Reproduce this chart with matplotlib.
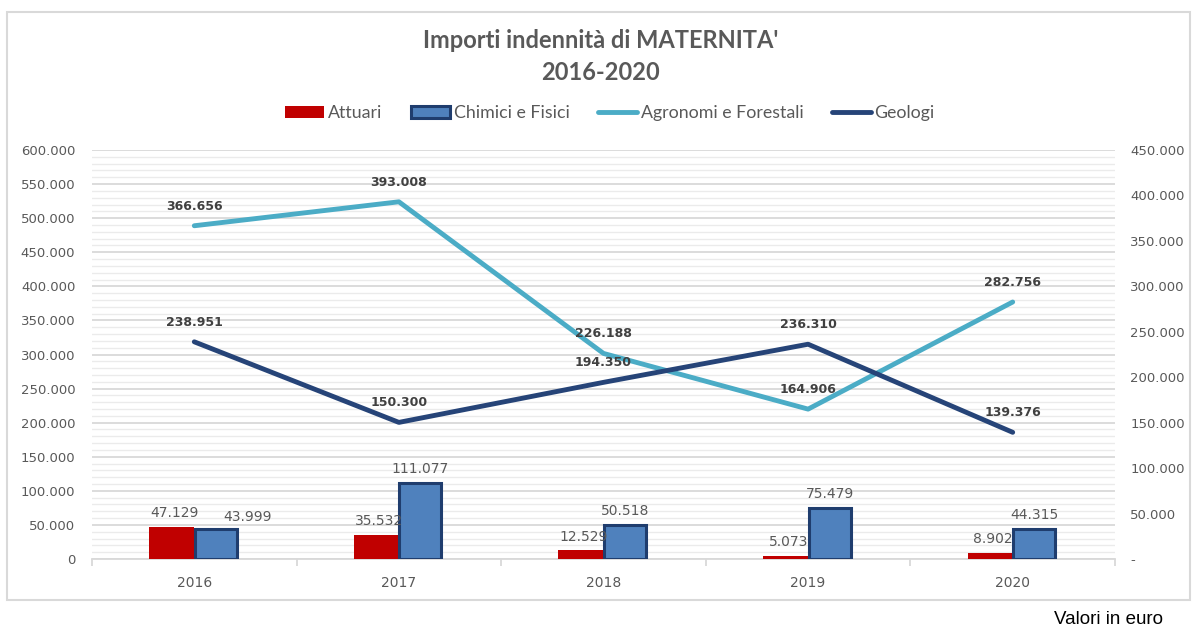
import matplotlib
matplotlib.use("Agg")
import matplotlib.pyplot as plt
import numpy as np
from matplotlib.ticker import FuncFormatter, MultipleLocator, FixedLocator
from matplotlib.patches import Rectangle

anni = ['2016', '2017', '2018', '2019', '2020']
attuari = [47129, 35532, 12529, 5073, 8902]
chimici = [43999, 111077, 50518, 75479, 44315]
agronomi = [366656, 393008, 226188, 164906, 282756]
geologi = [238951, 150300, 194350, 236310, 139376]

def fmt_it(v):
    return '{:,.0f}'.format(v).replace(',', '.')

grigio = '#595959'
rosso = '#C00000'
blu = '#4F81BD'
blu_bordo = '#1F3D6E'
azzurro = '#4BACC6'
navy = '#264478'

fig = plt.figure(figsize=(11.94, 6.27), dpi=100)
ax = fig.add_axes([92/1194, 1-559/627, (1115-92)/1194, (559-150)/627])
ax2 = ax.twinx()

# cornice del grafico
fig.patches.append(Rectangle((7/1194, 1-600/627), 1183/1194, 588/627,
                             transform=fig.transFigure, fill=False,
                             edgecolor='#D9D9D9', linewidth=1.5))

x = np.arange(len(anni))
b1 = ax.bar(x - 0.11, attuari, 0.22, color=rosso, zorder=3, label='Attuari')
b2 = ax.bar(x + 0.105, chimici, 0.205, color=blu, edgecolor=blu_bordo,
            linewidth=2.2, zorder=3, label='Chimici e Fisici')

l1, = ax2.plot(x, agronomi, color=azzurro, lw=3.5, solid_capstyle='round',
               label='Agronomi e Forestali')
l2, = ax2.plot(x, geologi, color=navy, lw=3.5, solid_capstyle='round',
               label='Geologi')

ax.set_xlim(-0.5, 4.5)
ax.set_ylim(0, 600000)
ax2.set_ylim(0, 450000)

ax.yaxis.set_major_locator(MultipleLocator(50000))
ax.yaxis.set_minor_locator(MultipleLocator(10000))
ax2.yaxis.set_major_locator(MultipleLocator(50000))
ax.yaxis.set_major_formatter(FuncFormatter(lambda v, p: fmt_it(v)))
ax2.yaxis.set_major_formatter(FuncFormatter(lambda v, p: '-' if v == 0 else fmt_it(v)))

ax.grid(which='major', axis='y', color='#D9D9D9', lw=1.3, zorder=0)
ax.grid(which='minor', axis='y', color='#EBEBEB', lw=1.0, zorder=0)
ax.set_axisbelow(True)

ax.set_xticks(x)
ax.set_xticklabels(anni)
ax.xaxis.set_minor_locator(FixedLocator(np.arange(-0.5, 5, 1)))
ax.tick_params(axis='x', which='major', length=0, pad=12, labelsize=10, labelcolor=grigio)
ax.tick_params(axis='x', which='minor', length=5, color='#D9D9D9', width=1.3)
ax.tick_params(axis='y', which='both', length=0, labelsize=9.5, labelcolor=grigio, pad=12)
ax2.tick_params(axis='y', length=0, labelsize=9.5, labelcolor=grigio, pad=11)

for a in (ax, ax2):
    for s in ('top', 'left', 'right'):
        a.spines[s].set_visible(False)
ax.spines['bottom'].set_color('#D9D9D9')
ax.spines['bottom'].set_linewidth(1.3)
ax2.spines['bottom'].set_visible(False)

# etichette barre
for i, v in enumerate(attuari):
    ax.annotate(fmt_it(v), (x[i] - 0.11, v), xytext=(2, 10), textcoords='offset points',
                ha='center', va='center', fontsize=10, color=grigio, zorder=5)
for i, v in enumerate(chimici):
    dx = 23 if i == 0 else 0
    dy = 8.5 if i == 0 else 10
    ax.annotate(fmt_it(v), (x[i] + 0.105, v), xytext=(dx, dy), textcoords='offset points',
                ha='center', va='center', fontsize=10, color=grigio, zorder=5)

# etichette linee
for serie in (agronomi, geologi):
    for i, v in enumerate(serie):
        ax2.annotate(fmt_it(v), (x[i], v), xytext=(0, 14), textcoords='offset points',
                     ha='center', va='center', fontsize=9, fontweight='bold', color='#404040')

fig.text(601/1194, 1-40/627, "Importi indennità di MATERNITA'", ha='center', va='center',
         fontsize=17, fontweight='bold', color=grigio, family='Lato')
fig.text(601/1194, 1-72/627, "2016-2020", ha='center', va='center',
         fontsize=17, fontweight='bold', color=grigio, family='Lato')

fig.legend([b1, b2, l1, l2], ['Attuari', 'Chimici e Fisici', 'Agronomi e Forestali', 'Geologi'],
           loc='center', bbox_to_anchor=(610/1194, 1-113/627), ncol=4, frameon=False,
           prop={'family': 'Lato', 'size': 12.8}, labelcolor=grigio,
           handlelength=2.2, handleheight=0.7, handletextpad=0.2, columnspacing=1.6)

fig.text(1163/1194, 1-620/627, 'Valori in euro', ha='right', va='center',
         fontsize=13.5, color='black', family='Liberation Sans')

fig.savefig('out.png', dpi=100)
